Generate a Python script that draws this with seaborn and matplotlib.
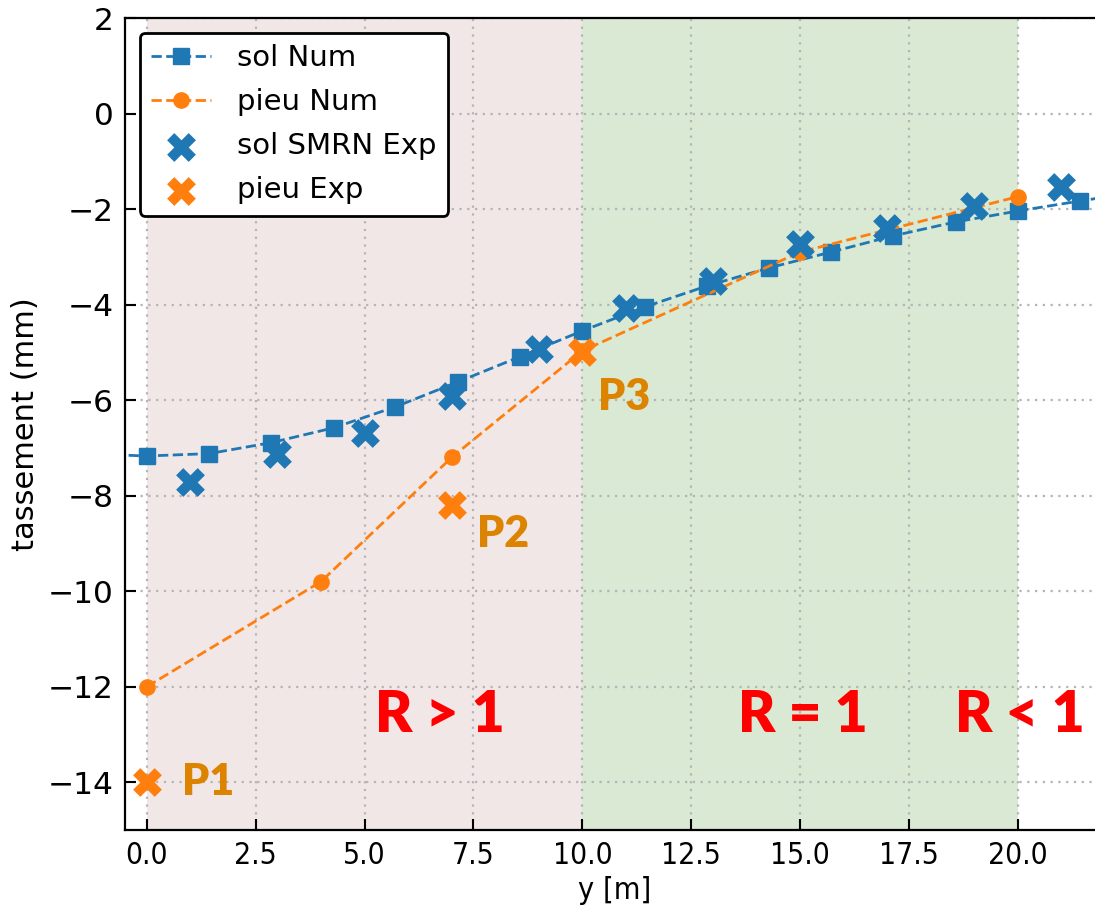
import numpy as np
import pandas as pd
import seaborn as sns
import matplotlib.pyplot as plt

# sol Num (numerique, sol)
sol_num_y = [-1.43, 0.0, 1.43, 2.86, 4.29, 5.71, 7.14, 8.57, 10.0, 11.43,
             12.86, 14.29, 15.71, 17.14, 18.57, 20.0, 21.43, 22.86]
sol_num_t = [-7.12, -7.17, -7.12, -6.89, -6.58, -6.14, -5.62, -5.09, -4.55, -4.05,
             -3.61, -3.23, -2.90, -2.56, -2.27, -2.04, -1.83, -1.63]

# pieu Num
pieu_num_y = [0.0, 4.0, 7.0, 10.0, 15.0, 20.0]
pieu_num_t = [-12.0, -9.8, -7.2, -4.97, -2.9, -1.74]

# sol SMRN Exp
sol_exp_y = [1.0, 3.0, 5.0, 7.0, 9.0, 11.0, 13.0, 15.0, 17.0, 19.0, 21.0]
sol_exp_t = [-7.71, -7.12, -6.68, -5.91, -4.92, -4.07, -3.5, -2.73, -2.39, -1.93, -1.54]

# pieu Exp
pieu_exp_y = [0.0, 7.0, 10.0]
pieu_exp_t = [-14.0, -8.2, -5.0]
pieu_exp_names = ['P1', 'P2', 'P3']
pieu_exp_label_pos = [(0.8, -14.26), (7.58, -9.07), (10.36, -6.2)]

zone_labels = ['R > 1', 'R = 1', 'R < 1']
zone_label_x = [6.73, 15.06, 20.05]

blue = '#1f77b4'
orange = '#ff7f0e'

fig = plt.figure(figsize=(10.95, 9.14), dpi=100)
ax = fig.add_axes([125 / 1095, 84 / 914, 980 / 1095, 812 / 914])

# zones
ax.axvspan(0, 10, color='#f1e7e7', zorder=0, lw=0)
ax.axvspan(10, 20, color='#d9e9d3', zorder=0, lw=0)

sns.lineplot(x=sol_num_y, y=sol_num_t, ax=ax, color=blue, linestyle='--', lw=2,
             marker='s', markersize=11, markeredgecolor=blue, markeredgewidth=1,
             estimator=None, sort=False, label='sol Num', zorder=3)
sns.lineplot(x=pieu_num_y, y=pieu_num_t, ax=ax, color=orange, linestyle='--', lw=2,
             marker='o', markersize=11, markeredgecolor=orange, markeredgewidth=1,
             estimator=None, sort=False, label='pieu Num', zorder=3)
sns.scatterplot(x=sol_exp_y, y=sol_exp_t, ax=ax, color=blue, marker='X', s=430,
                linewidth=0, label='sol SMRN Exp', zorder=4)
sns.scatterplot(x=pieu_exp_y, y=pieu_exp_t, ax=ax, color=orange, marker='X', s=430,
                linewidth=0, label='pieu Exp', zorder=4)

for name, (px, py) in zip(pieu_exp_names, pieu_exp_label_pos):
    ax.text(px, py, name, color='#dc8400', fontsize=31, fontweight='heavy',
            family='Lato', va='baseline', ha='left', zorder=5)

for lab, zx in zip(zone_labels, zone_label_x):
    ax.text(zx, -12.95, lab, color='red', fontsize=41, fontweight='heavy',
            family='Lato', va='baseline', ha='center', zorder=5)

ax.set_xlim(-0.5, 22.0)
ax.set_ylim(-15, 2)
ax.set_xticks(np.arange(0, 22.5, 2.5))
ax.set_yticks(np.arange(-14, 3, 2))
ax.grid(True, linestyle=(0, (1, 2.5)), color='#b4b4b4', lw=1.6)
for gl in ax.get_xgridlines() + ax.get_ygridlines():
    gl.set_zorder(1)
ax.tick_params(direction='in', length=8, width=1.5, pad=8)
ax.tick_params(axis='y', labelsize=22.5)
ax.tick_params(axis='x', labelsize=21.5)
for lbl in ax.get_xticklabels():
    lbl.set_fontstretch('condensed')
for sp in ax.spines.values():
    sp.set_linewidth(1.6)

ax.set_xlabel('y [m]', fontsize=22, labelpad=4, fontstretch='condensed')
ax.set_ylabel('tassement (mm)', fontsize=22, labelpad=6)

leg = ax.legend(loc='upper left', fontsize=21, handlelength=2.05, framealpha=1,
                edgecolor='black', fancybox=True, borderaxespad=0.5,
                labelspacing=0.55, handletextpad=0.9, bbox_to_anchor=(0, 1))
leg.get_frame().set_linewidth(2)

fig.savefig('out.png', dpi=100)
